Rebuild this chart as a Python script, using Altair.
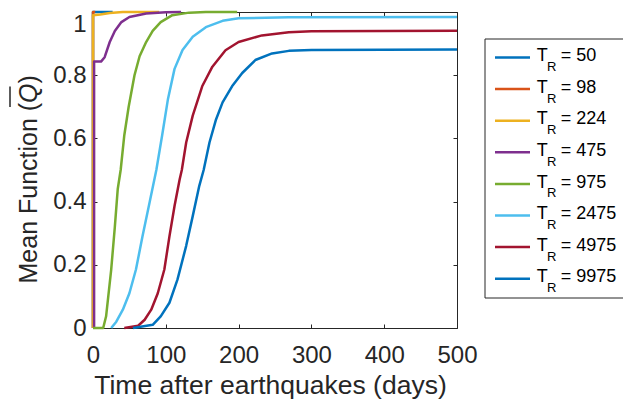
import altair as alt
import pandas as pd

# ---------------- data ----------------
labels = ["50", "98", "224", "475", "975", "2475", "4975", "9975"]
colors = ["#0072BD", "#D95319", "#EDB120", "#7E2F8E", "#77AC30", "#4DBEEE", "#A2142F", "#0072BD"]

t50_days = [0, 0, 27]
t50_vals = [0, 1.0, 1.0]

t98_days = [0, 0, 3]
t98_vals = [0, 1.0, 1.0]

t224_days = [0, 0, 10, 23, 41, 91]
t224_vals = [0, 0.99, 0.992, 0.997, 1.0, 1.0]

t475_days = [1.5, 1.5, 11, 16, 23, 30, 39, 50, 73, 100, 121]
t475_vals = [0, 0.843, 0.843, 0.857, 0.905, 0.94, 0.968, 0.984, 0.995, 0.999, 1.0]

t975_days = [0, 14, 18, 25, 30, 34, 38, 43, 49, 57, 64, 73, 82, 93, 109, 132, 155, 198]
t975_vals = [0, 0, 0.037, 0.185, 0.32, 0.44, 0.50, 0.61, 0.70, 0.80, 0.86, 0.905, 0.94, 0.968, 0.99, 0.998, 1.0, 1.0]

t2475_days = [25, 32, 41, 50, 59, 68, 78, 87, 95, 103, 112, 123, 137, 155, 178, 200, 269, 500]
t2475_vals = [0, 0.02, 0.058, 0.11, 0.185, 0.29, 0.40, 0.50, 0.61, 0.725, 0.82, 0.88, 0.922, 0.952, 0.972, 0.98, 0.983, 0.984]

t4975_days = [43, 62, 71, 80, 89, 98, 105, 112, 119, 122, 128, 137, 150, 164, 182, 200, 232, 269, 300, 500]
t4975_vals = [0, 0.007, 0.026, 0.058, 0.11, 0.185, 0.29, 0.386, 0.47, 0.50, 0.587, 0.672, 0.765, 0.827, 0.879, 0.905, 0.926, 0.936, 0.939, 0.941]

t9975_days = [55, 82, 93, 105, 116, 128, 137, 146, 152, 160, 169, 178, 191, 205, 223, 246, 269, 300, 500]
t9975_vals = [0, 0.01, 0.037, 0.08, 0.153, 0.26, 0.354, 0.45, 0.50, 0.587, 0.66, 0.714, 0.765, 0.807, 0.848, 0.869, 0.877, 0.88, 0.881]

series_days = [t50_days, t98_days, t224_days, t475_days, t975_days, t2475_days, t4975_days, t9975_days]
series_vals = [t50_vals, t98_vals, t224_vals, t475_vals, t975_vals, t2475_vals, t4975_vals, t9975_vals]

x_ticks = [0, 100, 200, 300, 400, 500]
y_ticks = [0, 0.2, 0.4, 0.6, 0.8, 1]

x_title = "Time after earthquakes (days)"
y_title_a = "Mean Function ("
y_title_q = "Q"
y_title_b = ")"

# ---------------- layout ----------------
W, H = 364, 316
AX = "#262626"
FONT = "Liberation Sans"
LW = 2.5

xs = alt.Scale(domain=[0, 500], nice=False, zero=False)
ys = alt.Scale(domain=[0, 1], nice=False, zero=False)

bottom_axis = alt.Axis(
    orient="bottom", values=x_ticks, format="d", domain=False, grid=False,
    tickSize=4, tickColor=AX, tickWidth=1, offset=-4, labelFlush=False, labelOverlap=False,
    labelFont=FONT, labelFontSize=24, labelColor=AX, labelPadding=15,
    title=x_title, titleFont=FONT, titleFontSize=26.5, titleColor=AX, titleFontWeight="normal",
    titleBaseline="top", titleAlign="center", titleAnchor="start", titleX=177, titleY=48.5,
)
left_axis = alt.Axis(
    orient="left", values=y_ticks, format="~g", domain=False, grid=False,
    tickSize=4, tickColor=AX, tickWidth=1, offset=-4, labelFlush=False, labelOverlap=False,
    labelFont=FONT, labelFontSize=24, labelColor=AX, labelPadding=7,
    labelBaseline={"condition": {"test": "datum.value == 1", "value": "top"}, "value": "middle"},
    title=None,
)
top_axis = alt.Axis(orient="top", values=x_ticks, labels=False, domain=False, grid=False,
                    tickSize=4, tickColor=AX, tickWidth=1, offset=-4, title=None)
right_axis = alt.Axis(orient="right", values=y_ticks, labels=False, domain=False, grid=False,
                      tickSize=4, tickColor=AX, tickWidth=1, offset=-4, title=None)

layers = []
for i in range(len(labels)):
    df = pd.DataFrame({"day": series_days[i], "val": series_vals[i],
                       "k": list(range(len(series_days[i])))})
    if i == 0:
        xa, ya = bottom_axis, left_axis
    elif i == 1:
        xa, ya = top_axis, right_axis
    else:
        xa, ya = None, None
    layers.append(
        alt.Chart(df).mark_line(strokeWidth=LW, color=colors[i], strokeJoin="round").encode(
            x=alt.X("day:Q", scale=xs, axis=xa),
            y=alt.Y("val:Q", scale=ys, axis=ya),
            order=alt.Order("k:Q"),
        )
    )

# ---------------- custom y title (italic Q with overline) ----------------
one = pd.DataFrame({"a": [0]})
YT_FS = 25
ytx = -56.3
yty = 271.5
w1 = 7.225 * YT_FS
wq = 0.778 * YT_FS
ytitle = [
    alt.Chart(one).mark_text(angle=270, align="left", baseline="alphabetic", font=FONT,
                             fontSize=YT_FS, color=AX).encode(
        x=alt.value(ytx), y=alt.value(yty), text=alt.value(y_title_a)),
    alt.Chart(one).mark_text(angle=270, align="left", baseline="alphabetic", font=FONT,
                             fontSize=YT_FS, fontStyle="italic", color=AX).encode(
        x=alt.value(ytx), y=alt.value(yty - w1), text=alt.value(y_title_q)),
    alt.Chart(one).mark_text(angle=270, align="left", baseline="alphabetic", font=FONT,
                             fontSize=YT_FS, color=AX).encode(
        x=alt.value(ytx), y=alt.value(yty - w1 - wq), text=alt.value(y_title_b)),
    alt.Chart(one).mark_rule(color=AX, strokeWidth=1.5).encode(
        x=alt.value(-83), y=alt.value(yty - w1 - wq + 3), y2=alt.value(yty - w1 + 4)),
]

# ---------------- custom legend ----------------
leg_df = pd.DataFrame({"lab": labels, "row": list(range(len(labels))), "col": colors})
leg_base = alt.Chart(leg_df).transform_calculate(
    py="45.5 + 31.6 * datum.row",
    ty="45.5 + 31.6 * datum.row + 3.7",
    ry="45.5 + 31.6 * datum.row + 13.4",
    eq="'= ' + datum.lab",
)
legend_box = alt.Chart(one).mark_rect(fill="white", stroke=AX, strokeWidth=1).encode(
    x=alt.value(392), x2=alt.value(620), y=alt.value(27), y2=alt.value(286))
legend_lines = leg_base.mark_rule(strokeWidth=LW).encode(
    x=alt.value(402), x2=alt.value(437),
    y=alt.Y("py:Q", scale=None, axis=None),
    color=alt.Color("col:N", scale=None, legend=None))
legend_T = leg_base.mark_text(align="left", baseline="alphabetic", font=FONT, fontSize=18,
                              color="black").encode(
    x=alt.value(443.7), y=alt.Y("ty:Q", scale=None, axis=None), text=alt.value("T"))
legend_R = leg_base.mark_text(align="left", baseline="alphabetic", font=FONT, fontSize=13,
                              color="black").encode(
    x=alt.value(454), y=alt.Y("ry:Q", scale=None, axis=None), text=alt.value("R"))
legend_eq = leg_base.mark_text(align="left", baseline="alphabetic", font=FONT, fontSize=18,
                               color="black").encode(
    x=alt.value(467.8), y=alt.Y("ty:Q", scale=None, axis=None), text=alt.Text("eq:N"))

chart = alt.layer(
    *layers, *ytitle, legend_box, legend_lines, legend_T, legend_R, legend_eq
).resolve_axis(
    x="independent", y="independent"
).properties(
    width=W, height=H,
    autosize=alt.AutoSizeParams(type="none"),
    padding={"left": 93, "top": 12, "right": 623 - 93 - W, "bottom": 402 - 12 - H},
    background="white",
).configure_view(
    stroke=AX, strokeWidth=1
)

chart.save("out.html", embed_options={"renderer": "svg", "actions": False})
